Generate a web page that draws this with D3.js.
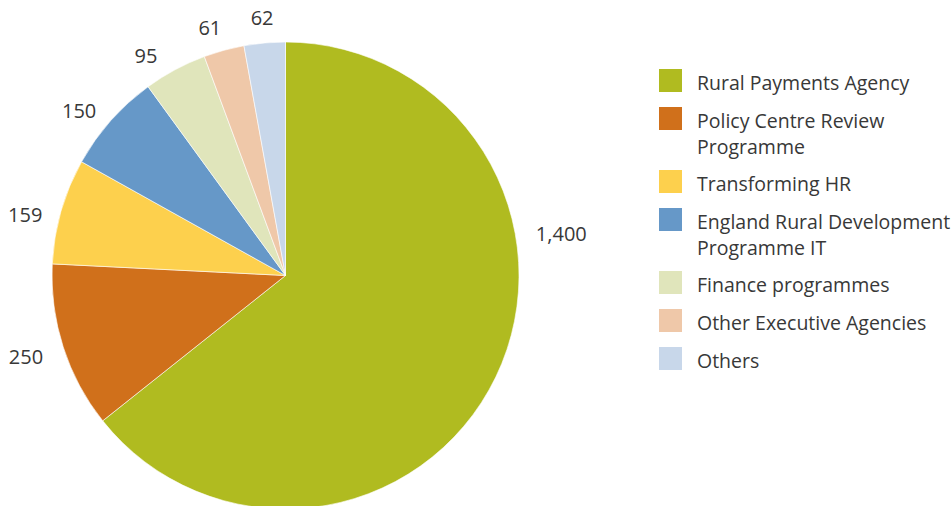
<!DOCTYPE html>
<html><head><meta charset="utf-8">
<script src="https://cdn.jsdelivr.net/npm/d3@7"></script>
<style>html,body{margin:0;padding:0;background:#fff;}svg{display:block;}</style>
</head><body>
<svg id="chart" width="951" height="506"></svg>
<script>
const categories = ["Rural Payments Agency","Policy Centre Review Programme","Transforming HR","England Rural Development Programme IT","Finance programmes","Other Executive Agencies","Others"];
const legendLines = [["Rural Payments Agency"],["Policy Centre Review","Programme"],["Transforming HR"],["England Rural Development","Programme IT"],["Finance programmes"],["Other Executive Agencies"],["Others"]];
const values = [1400,250,159,150,95,61,62];
const valueLabels = ["1,400","250","159","150","95","61","62"];
const colors = ["#b0bb20","#d0701b","#fdd04d","#6698c8","#e0e5bb","#efc8a9","#c8d7ea"];

// label placement nudges (layout only): degrees rotation and radial px
const labelAngleNudge = [0, 0, -2.5, -2, -4, -1.5, 0];
const labelRadiusNudge = [0, 5, 0, 0, 0, 0, 0];

const svg = d3.select("#chart");
const cx = 285.5, cy = 275.5, R = 233.5;
const font = "'Open Sans', sans-serif";
const legendFontSize = 19.5;
const labelFontSize = 20;
const textColor = "#383838";

const pie = d3.pie().value(d => d).sort(null);
const arcs = pie(values);
const arc = d3.arc().innerRadius(0).outerRadius(R);

const g = svg.append("g").attr("transform", `translate(${cx},${cy})`);
g.selectAll("path").data(arcs).enter().append("path")
  .attr("d", arc).attr("fill", (d,i) => colors[i])
  .attr("stroke", "#fff").attr("stroke-width", 0.6);

// labels: outside-end placement; first label was moved manually in the original
const labelOverride = {0: {angle: 81.3 * Math.PI/180, r: 279}};
const labelR = R + 17;
const lg = g.append("g").attr("font-family", font).attr("font-size", labelFontSize).attr("fill", textColor);
arcs.forEach((d,i) => {
  const t = lg.append("text").text(valueLabels[i]).attr("text-anchor","middle").attr("dominant-baseline","central");
  const bb = t.node().getBBox();
  let x, y;
  if (labelOverride[i]) {
    const o = labelOverride[i];
    x = o.r * Math.sin(o.angle); y = -o.r * Math.cos(o.angle);
  } else {
    const a = (d.startAngle + d.endAngle) / 2 + labelAngleNudge[i] * Math.PI / 180;
    const dx = Math.sin(a), dy = -Math.cos(a);
    const r = labelR + labelRadiusNudge[i];
    x = r * dx + dx * bb.width / 2;
    y = r * dy + dy * 9;
  }
  t.attr("x", x).attr("y", y);
});

// legend
const legX = 659, legY = 69, sw = 23;
const leg = svg.append("g").attr("font-family", font).attr("font-size", legendFontSize).attr("fill", textColor);
let yy = legY;
legendLines.forEach((lines, i) => {
  leg.append("rect").attr("x", legX).attr("y", yy).attr("width", sw).attr("height", sw).attr("fill", colors[i]);
  const t = leg.append("text").attr("x", legX + 38).attr("y", yy + 21);
  lines.forEach((ln, j) => t.append("tspan").attr("x", legX + 38).attr("dy", j === 0 ? 0 : 26).text(ln));
  yy += 38 + 25 * (lines.length - 1);
});
</script>
</body></html>
